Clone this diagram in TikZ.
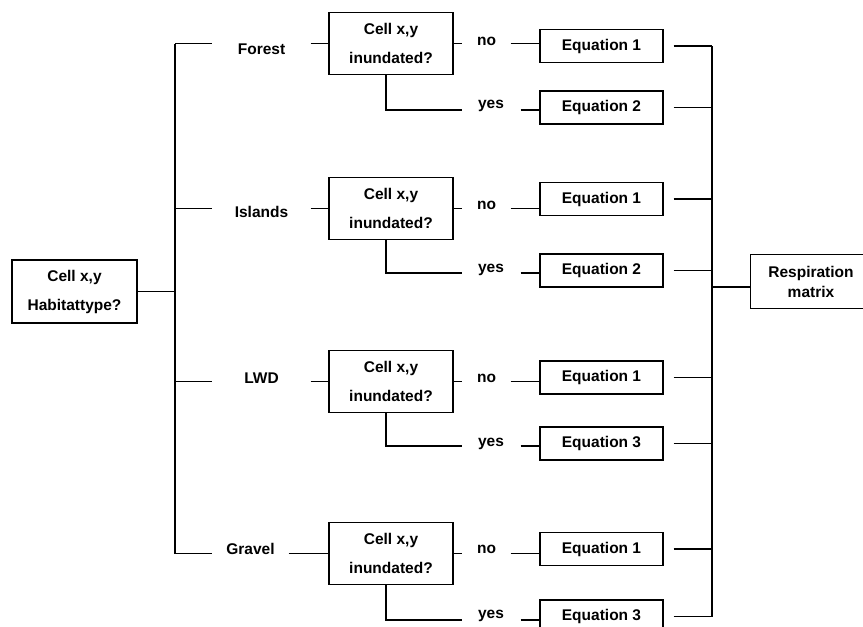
\documentclass[tikz,border=0pt]{standalone}
\usepackage{fontspec}
\setmainfont{Liberation Sans}
\begin{document}
\begin{tikzpicture}[x=1pt,y=-1pt,line width=1.1pt,
  txt/.style={font=\fontsize{15.5}{29}\selectfont\bfseries},
  box/.style={txt,draw,inner sep=0pt,align=center},
  decbox/.style={box,minimum width=124pt,minimum height=62pt},
  eqbox/.style={box,minimum width=123pt,minimum height=33pt},
  lbl/.style={txt,inner sep=0pt,minimum height=16pt},
  gap/.style={shorten <=10pt}]
\useasboundingbox (0,0) rectangle (863,627);

% start box
\node[box,minimum width=125pt,minimum height=63pt] (hab) at (74.5,291.5) {Cell x,y\\Habitattype?};
\coordinate (trunk) at (175,0);

% decision boxes
\node[decbox] (decF) at (391,43.5) {Cell x,y\\inundated?};
\node[decbox] (decI) at (391,208.5) {Cell x,y\\inundated?};
\node[decbox] (decL) at (391,381.5) {Cell x,y\\inundated?};
\node[decbox] (decG) at (391,553.5) {Cell x,y\\inundated?};

% habitat labels
\node[lbl,minimum width=97pt] (forest) at (261.5,49) {Forest};
\node[lbl,minimum width=97pt] (islands) at (261.5,212) {Islands};
\node[lbl,minimum width=97pt] (lwd) at (261.5,378) {LWD};
\node[lbl,minimum width=75pt] (gravel) at (250.5,549) {Gravel};

% no / yes labels
\node[lbl,minimum width=47pt] (noF) at (486.5,41) {no};
\node[lbl,minimum width=47pt] (noI) at (486.5,205) {no};
\node[lbl,minimum width=47pt] (noL) at (486.5,378) {no};
\node[lbl,minimum width=47pt] (noG) at (486.5,549) {no};
\node[lbl,minimum width=58pt] (yesF) at (491,106) {yes};
\node[lbl,minimum width=58pt] (yesI) at (491,270) {yes};
\node[lbl,minimum width=58pt] (yesL) at (491,444) {yes};
\node[lbl,minimum width=58pt] (yesG) at (491,616) {yes};
\coordinate (yF) at (462,110);
\coordinate (yI) at (462,273);
\coordinate (yL) at (462,446);
\coordinate (yG) at (462,620);

% equation boxes
\node[eqbox] (eqF1) at (601.5,46) {Equation 1};
\node[eqbox] (eqF2) at (601.5,107.5) {Equation 2};
\node[eqbox] (eqI1) at (601.5,199) {Equation 1};
\node[eqbox] (eqI2) at (601.5,270.5) {Equation 2};
\node[eqbox] (eqL1) at (601.5,377.5) {Equation 1};
\node[eqbox] (eqL2) at (601.5,443.5) {Equation 3};
\node[eqbox] (eqG1) at (601.5,549) {Equation 1};
\node[eqbox] (eqG2) at (601.5,616.5) {Equation 3};

% result box (its right side runs off the picture, as in the reference)
\node[txt,inner sep=0pt,align=center,minimum width=120pt,minimum height=53pt,font=\fontsize{15.5}{20}\selectfont\bfseries] (resp) at (811,281.5) {Respiration\\matrix};
\draw (resp.north east) -- (resp.north west) -- (resp.south west) -- (resp.south east);
\coordinate (bus) at (712,0);
\coordinate (rj) at (712,287);

% trunk
\draw (hab.east) -- (hab.east -| trunk);
\draw (decF.west -| trunk) -- (decG.west -| trunk);
\foreach \d/\l in {decF/forest,decI/islands,decL/lwd,decG/gravel}{
  \draw (\d.west -| trunk) -- (\d.west -| \l.west);
  \draw (\d.west -| \l.east) -- (\d.west);
}

% no / yes branches
\foreach \d/\n/\e in {decF/noF/eqF1,decI/noI/eqI1,decL/noL/eqL1,decG/noG/eqG1}{
  \draw (\d.east) -- (\d.east -| \n.west);
  \draw (\d.east -| \n.east) -- (\d.east -| \e.west);
}
\foreach \d/\y/\n/\e in {decF/yF/yesF/eqF2,decI/yI/yesI/eqI2,decL/yL/yesL/eqL2,decG/yG/yesG/eqG2}{
  \draw ([xshift=-5pt]\d.south) |- (\y);
  \draw (\y -| \n.east) -- (\y -| \e.west);
}

% collector
\foreach \e in {eqF1,eqF2,eqI1,eqI2,eqL1,eqL2,eqG1,eqG2}{
  \draw[gap] (\e.east) -- (\e.east -| bus);
}
\draw (eqF1.east -| bus) -- (eqG2.east -| bus);
\draw (rj) -- (rj -| resp.west);
\end{tikzpicture}
\end{document}
